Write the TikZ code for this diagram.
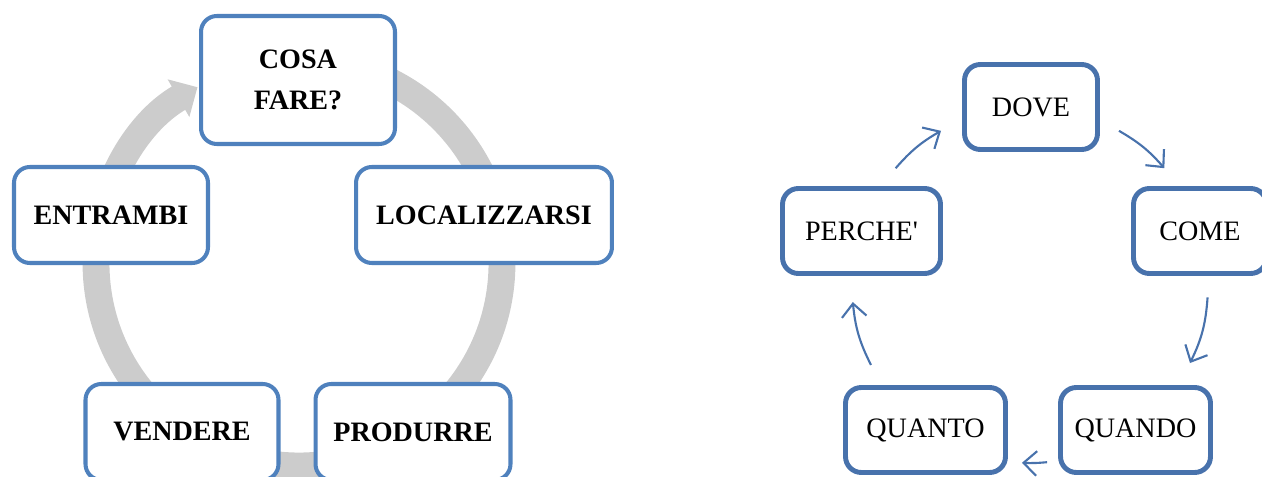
\documentclass[tikz,border=0pt]{standalone}
\usepackage{fontspec}
\setmainfont{Liberation Serif}
\usetikzlibrary{arrows.meta}
\definecolor{cycleblue}{RGB}{79,129,189}
\definecolor{askblue}{RGB}{72,114,172}
\definecolor{ringgray}{RGB}{204,204,204}

\begin{document}
\begin{tikzpicture}[x=0.02cm,y=0.02cm,
  cyclebox/.style={draw=cycleblue,line width=2.3pt,fill=white,rounded corners=9pt,
    inner sep=0pt,align=center,minimum height=1.92cm,
    font=\fontsize{16}{23.5}\selectfont\bfseries},
  askbox/.style={draw=askblue,line width=2.8pt,fill=white,rounded corners=9pt,
    inner sep=0pt,minimum height=1.7cm,font=\fontsize{16}{20}\selectfont},
  ring/.style={draw=ringgray,line width=15.3pt,-{Triangle[length=12.5pt,width=24pt]}},
  askarrow/.style={draw=askblue,line width=1.2pt,-{Straight Barb[length=7.5pt,width=14pt]}}]
\useasboundingbox (0,0) rectangle (1262,477);
% left: grey cycle behind the boxes
\coordinate (ringc) at (299,214);
\draw[ring] (ringc) ++(90:203) arc[start angle=90,end angle=-240,radius=203];
\node[cyclebox,minimum width=3.88cm,minimum height=2.56cm] (cosa) at (298,397) {COSA\\FARE?};
\node[cyclebox,minimum width=5.12cm] (loc) at (484,262) {LOCALIZZARSI};
\node[cyclebox,minimum width=3.9cm] (prod) at (413,45) {PRODURRE};
\node[cyclebox,minimum width=3.86cm] (vend) at (182,45) {VENDERE};
\node[cyclebox,minimum width=3.88cm] (entr) at (111,262) {ENTRAMBI};
% right: questions
\node[askbox,minimum width=2.66cm] (dove) at (1031,370) {DOVE};
\node[askbox,minimum width=2.66cm] (come) at (1200,246) {COME};
\node[askbox,minimum width=3.0cm] (quando) at (1135.5,47) {QUANDO};
\node[askbox,minimum width=3.2cm] (quanto) at (925.5,47) {QUANTO};
\node[askbox,minimum width=3.16cm] (perche) at (861.5,246) {PERCHE\textquotesingle};
\coordinate (hub) at (1030,192);
\foreach \s/\e/\n/\b in {60/41/a/9.5,-4/-26/b/11,-84.5/-92.6/c/4,206.7/185.5/d/10.6,139/120/e/9.5}
 {\path (hub) ++(\s:178) coordinate (\n0) (hub) ++(\e:178) coordinate (\n1);
  \draw[askarrow] (\n0) to[bend left=\b] (\n1);
 };
\end{tikzpicture}
\end{document}
